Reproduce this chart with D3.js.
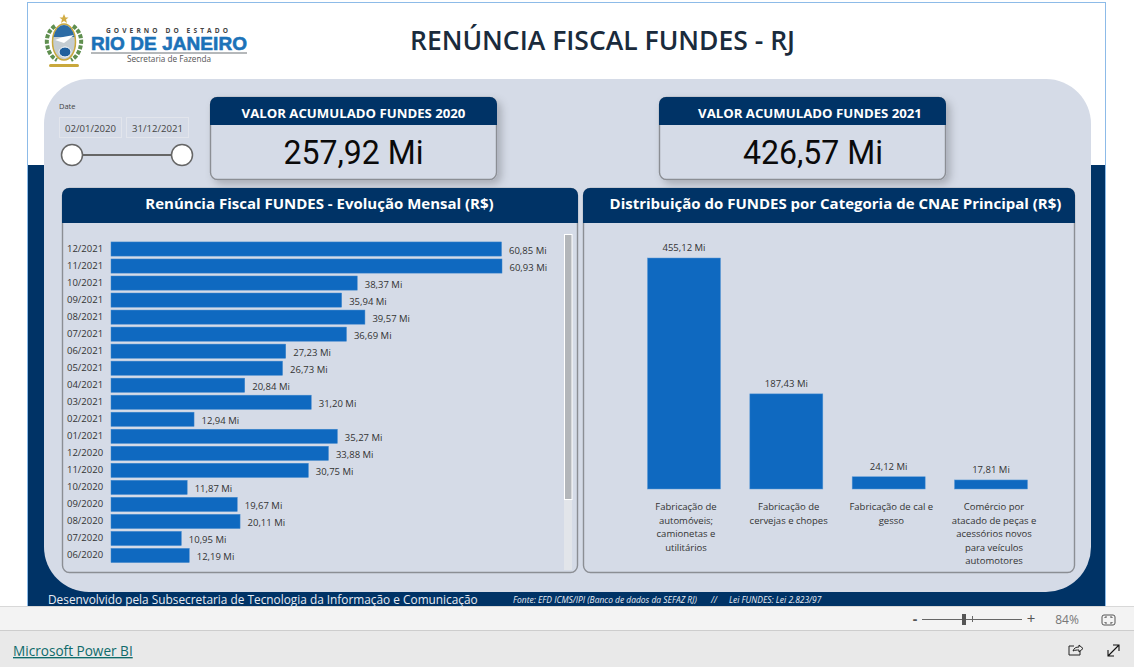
<!DOCTYPE html>
<html><head><meta charset="utf-8">
<script src="https://cdn.jsdelivr.net/npm/d3@7"></script>
<style>html,body{margin:0;padding:0;background:#fff;overflow:hidden}svg{display:block}text{font-family:"Open Sans",sans-serif}</style>
</head><body><svg id="c" width="1134" height="667"></svg>
<script>
const months=["12/2021","11/2021","10/2021","09/2021","08/2021","07/2021","06/2021","05/2021","04/2021","03/2021","02/2021","01/2021","12/2020","11/2020","10/2020","09/2020","08/2020","07/2020","06/2020"];
const monthValues=[60.85,60.93,38.37,35.94,39.57,36.69,27.23,26.73,20.84,31.20,12.94,35.27,33.88,30.75,11.87,19.67,20.11,10.95,12.19];
const categories=["Fabricação de automóveis; camionetas e utilitários","Fabricação de cervejas e chopes","Fabricação de cal e gesso","Comércio por atacado de peças e acessórios novos para veículos automotores"];
const categoryLines=[["Fabricação de","automóveis;","camionetas e","utilitários"],["Fabricação de","cervejas e chopes"],["Fabricação de cal e","gesso"],["Comércio por","atacado de peças e","acessórios novos","para veículos","automotores"]];
const categoryValues=[455.12,187.43,24.12,17.81];
const kpiTitles=["VALOR ACUMULADO FUNDES 2020","VALOR ACUMULADO FUNDES 2021"];
const kpiValues=["257,92 Mi","426,57 Mi"];

const NAVY="#003366",PANEL="#d5dbe7",BAR="#0f69c0",EDGE="#8b8e94";
const svg=d3.select("#c");
const fmt=d3.formatLocale({decimal:",",thousands:".",grouping:[3],currency:["R$",""]}).format(".2f");
const rect=(g,x,y,w,h,fill,rx)=>g.append("rect").attr("x",x).attr("y",y).attr("width",w).attr("height",h).attr("fill",fill).attr("rx",rx||0);
const txt=(g,x,y,s,size,fill,anchor,weight)=>g.append("text").attr("x",x).attr("y",y).text(s).attr("font-size",size).attr("fill",fill).attr("text-anchor",anchor||"start").attr("font-weight",weight||400);
const defs=svg.append("defs");
const f=defs.append("filter").attr("id","sh").attr("x","-10%").attr("y","-20%").attr("width","125%").attr("height","150%");
f.append("feDropShadow").attr("dx",4).attr("dy",4).attr("stdDeviation",4).attr("flood-color","#000").attr("flood-opacity",.22);

// page frame
rect(svg,0,0,1134,667,"#fff");
rect(svg,27.5,2.5,1078,604,"#fff").attr("stroke","#8dbbe8").attr("stroke-width",1);
rect(svg,28,165,1077,441,NAVY);
rect(svg,44,79,1047,513,PANEL,45);

// bottom chrome
rect(svg,0,607,1134,23,"#f3f3f3");
rect(svg,0,606,1134,1,"#d8d8d8");
rect(svg,0,630,1134,37,"#e9e9e9");
rect(svg,0,630,1134,1,"#cdcdcd");
txt(svg,13,656,"Microsoft Power BI",13.6,"#0f6b6b").attr("text-decoration","underline");
const zc=svg.append("g");
txt(zc,915,624,"-",14,"#555","middle",700);
rect(zc,922,619,100,1,"#666");
rect(zc,962,614,4,11,"#555");
rect(zc,972,616,1,6,"#666");
txt(zc,1031,624,"+",15,"#555","middle");
txt(zc,1067,624,"84%",12,"#777","middle");
rect(zc,1102,615,13,10,"none",2).attr("stroke","#555");
zc.append("path").attr("d","M1105 618v-1h2M1112 618v-1h-2M1105 622v1h2M1112 622v1h-2").attr("stroke","#555").attr("fill","none");
zc.append("path").attr("d","M1074 646h-5v9h11v-4M1073 651c1-3 3-4 6-4v-2l4 3.500-4 3.500v-2c-2 0-4 0-6 1z").attr("stroke","#222").attr("fill","none");
zc.append("path").attr("d","M1108 656l11-11M1113 645h6v6M1108 650v6h6").attr("stroke","#111").attr("fill","none").attr("stroke-width",1.1);

// logo
const lg=svg.append("g");
lg.append("path").attr("d","M55 26c-6 4-9 11-8 18s4 13 10 16").attr("fill","none").attr("stroke","#5f8f4f").attr("stroke-width",4).attr("stroke-dasharray","4 1.500");
lg.append("path").attr("d","M73 26c6 4 9 11 8 18s-4 13-10 16").attr("fill","none").attr("stroke","#5f8f4f").attr("stroke-width",4).attr("stroke-dasharray","4 1.500");
lg.append("ellipse").attr("cx",64).attr("cy",42).attr("rx",11.500).attr("ry",18).attr("fill","#c4ccd1").attr("stroke","#c9a83c").attr("stroke-width",1.500);
lg.append("path").attr("d","M53.500 37a11 17 0 0 1 21 0z").attr("fill","#2d6ca5");
lg.append("path").attr("d","M55 40l8-3 11-2-6 5-4 3z").attr("fill","#fff");
lg.append("ellipse").attr("cx",65).attr("cy",52).attr("rx",6).attr("ry",5).attr("fill","#1f5f9c").attr("stroke","#fff");
lg.append("path").attr("d","M64 14l1.500 3.500h3l-2.500 2 1 3.500-3-2-3 2 1-3.500-2.500-2h3z").attr("fill","#d2ad45");
rect(lg,49,64,30,3,"#c9a83c",1.500);
txt(lg,106,33,"GOVERNO DO ESTADO",6.6,"#444","start",700).attr("letter-spacing",3.1);
txt(lg,91,50,"RIO DE JANEIRO",19,"#1c72b8","start",800).style("font-family","'Liberation Sans'").attr("textLength",156).attr("stroke","#1c72b8").attr("stroke-width",.6);
rect(lg,91,52,156,2,"#b5b8ba");
txt(lg,169,62,"Secretaria de Fazenda",8.2,"#555","middle");

// title
txt(svg,602.5,50,"RENÚNCIA FISCAL FUNDES - RJ",26.5,"#1a2b3c","middle",600);

// date slicer
txt(svg,59,109,"Date",7.5,"#444");
[["02/01/2020",59],["31/12/2021",126]].forEach(([s,x])=>{
  rect(svg,x+.5,117.500,62,20,"none").attr("stroke","#e2e5ec");
  txt(svg,x+31.500,132,s,9.6,"#444","middle");
});
rect(svg,72,154,110,2,"#666");
[72,182].forEach(x=>svg.append("circle").attr("cx",x).attr("cy",155).attr("r",10.500).attr("fill","#fff").attr("stroke","#666").attr("stroke-width",1.500));

function headerPanel(x,y,w,h,hh,shadow){
  const g=svg.append("g");
  const body=rect(g,x+.5,y+.5,w-1,h,PANEL,7).attr("stroke",EDGE).attr("stroke-width",1.4);
  if(shadow)body.attr("filter","url(#sh)");
  g.append("path").attr("d",`M${x} ${y+hh}V${y+7}a7 7 0 0 1 7-7H${x+w-7}a7 7 0 0 1 7 7V${y+hh}Z`).attr("fill",NAVY);
  return g;
}
// KPI cards
[[210,287,353.5,353.5],[659,287,810,813]].forEach(([x,w,tc,vc],i)=>{
  const g=headerPanel(x,97,w,82,28,true);
  txt(g,tc,118,kpiTitles[i],13.2,"#fff","middle",700);
  txt(g,vc,164,kpiValues[i],33,"#0a0a0a","middle").style("font-family","Roboto").attr("textLength",140).attr("lengthAdjust","spacingAndGlyphs");
});

// left chart
const lp=headerPanel(62,188,516,384,35);
txt(lp,319.5,209,"Renúncia Fiscal FUNDES - Evolução Mensal (R$)",15,"#fff","middle",700);
const x1=d3.scaleLinear().domain([0,d3.max(monthValues)]).range([111,502]);
const y1=d3.scaleBand().domain(months).range([240.5,564]).paddingInner(.17).paddingOuter(.085);
const rows=lp.selectAll("g.row").data(months.map((m,i)=>({m,v:monthValues[i]}))).join("g").attr("class","row");
rows.append("rect").attr("x",x1(0)).attr("y",d=>y1(d.m)).attr("width",d=>x1(d.v)-x1(0)).attr("height",y1.bandwidth()).attr("fill",BAR).attr("stroke","#3f86cc").attr("stroke-width",.5);
rows.append("text").attr("x",67).attr("y",d=>y1(d.m)+y1.bandwidth()/2+2.5).text(d=>d.m).attr("font-size",9.5).attr("fill","#333");
rows.append("text").attr("x",d=>x1(d.v)+7.5).attr("y",d=>y1(d.m)+y1.bandwidth()/2+4.5).text(d=>fmt(d.v)+" Mi").attr("font-size",9.5).attr("fill","#333");
rect(lp,564,235,8,335,"#e2e5ea");
rect(lp,564.5,234.5,7.5,265,"#b3b6ba").attr("stroke","#fff");

// right chart
const rp=headerPanel(583,188,492,384,35);
txt(rp,835.5,209,"Distribuição do FUNDES por Categoria de CNAE Principal (R$)",15,"#fff","middle",700);
const x2=d3.scaleBand().domain(categories).range([621.5,1053.5]).paddingInner(.2866).paddingOuter(.254);
const xLabel=d3.scalePoint().domain(categories).range([686,994]);
const y2=d3.scaleLinear().domain([0,d3.max(categoryValues)]).range([489,258]);
const cols=rp.selectAll("g.col").data(categories.map((c,i)=>({c,v:categoryValues[i],l:categoryLines[i]}))).join("g").attr("class","col");
cols.append("rect").attr("x",d=>x2(d.c)).attr("y",d=>y2(d.v)).attr("width",x2.bandwidth()).attr("height",d=>y2(0)-y2(d.v)).attr("fill",BAR).attr("stroke","#5a98d6").attr("stroke-width",.5);
cols.append("text").attr("x",d=>x2(d.c)+x2.bandwidth()/2).attr("y",d=>y2(d.v)-7).attr("text-anchor","middle").text(d=>fmt(d.v)+" Mi").attr("font-size",9.5).attr("fill","#333");
cols.each(function(d){
  const g=d3.select(this);
  d.l.forEach((s,i)=>txt(g,xLabel(d.c),510+i*13.5,s,9.5,"#333","middle"));
});

// footer
txt(svg,48,604,"Desenvolvido pela Subsecretaria de Tecnologia da Informação e Comunicação",11.85,"#e8ecf3");
const fi=[[513,"Fonte: EFD ICMS/IPI (Banco de dados da SEFAZ RJ)"],[711,"//"],[729,"Lei FUNDES: Lei 2.823/97"]];
fi.forEach(([x,s])=>txt(svg,x,603,s,8.45,"#e8ecf3").attr("font-style","italic"));
</script></body></html>
